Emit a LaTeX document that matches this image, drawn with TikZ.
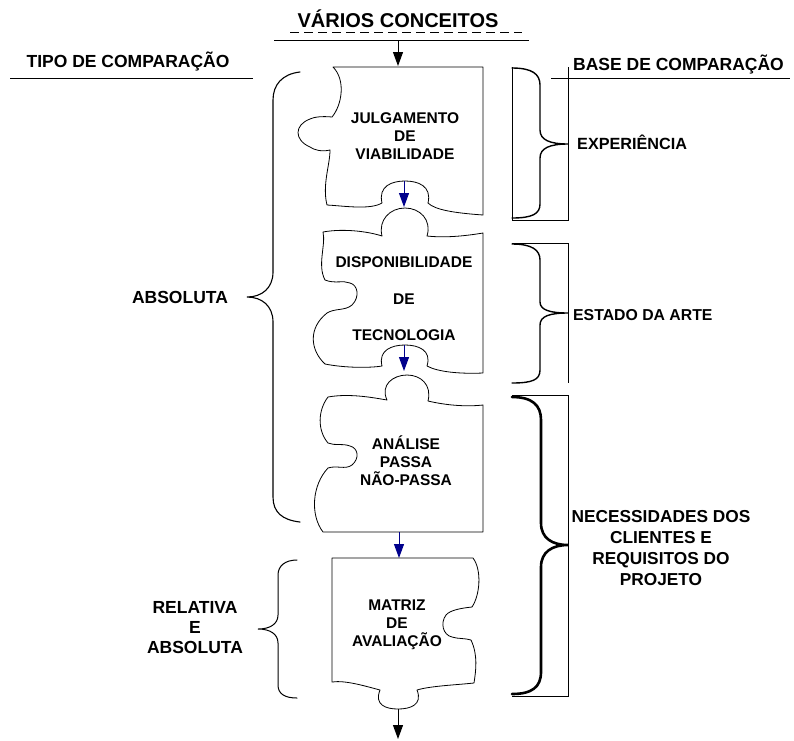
\documentclass[tikz,border=0pt]{standalone}
\usepackage{fontspec}
\setmainfont{Liberation Sans}
\usetikzlibrary{arrows.meta}
\definecolor{flowblue}{RGB}{0,0,140}
\begin{document}
\begin{tikzpicture}[x=1pt,y=-1pt,
  piece/.style={draw=black,line width=0.8pt,line join=round},
  brace/.style={draw=black,line width=1.4pt,line cap=round},
  thinline/.style={draw=black,line width=0.8pt},
  flow/.style={line width=1pt,-{Triangle[length=14pt,width=10pt]}},
  txt/.style={font=\bfseries\fontsize{15.5}{18}\selectfont,align=center,inner sep=0pt},
  side/.style={font=\bfseries\fontsize{17.5}{20}\selectfont,align=center,inner sep=0pt},
]
\useasboundingbox (0,0) rectangle (794,740);

% ---- title and column headers
\node[font=\bfseries\fontsize{20}{24}\selectfont,inner sep=0pt,anchor=base] (title) at (398,27) {VÁRIOS CONCEITOS};
\draw[thinline,dash pattern=on 9pt off 5pt] (290,32) -- (522,32);
\draw[thinline] (274,40) -- (529,40);
\coordinate (start) at (398,40);

\node[side,anchor=base] (tipo) at (128,67) {TIPO DE COMPARAÇÃO};
\draw[thinline] (10,78) -- (253,78);
\node[side,anchor=base west] (base) at (573,70) {BASE DE COMPARAÇÃO};
\draw[thinline] (551,78) -- (790,78);

% ---- puzzle piece 1
\draw[piece] (333,67) -- (483,67) -- (483,215)
  .. controls (455,213) and (435,210) .. (428,203)
  .. controls (432,186) and (418,181) .. (405,181)
  .. controls (392,181) and (378,186) .. (382,203)
  .. controls (370,210) and (345,206) .. (327,205)
  .. controls (322,185) and (330,165) .. (330,150)
  .. controls (322,152) and (314,150) .. (310,147)
  .. controls (294,140) and (294,125) .. (310,119)
  .. controls (314,117) and (322,116) .. (332,117)
  .. controls (342,105) and (346,80) .. (333,67) -- cycle;
\node[txt] (p1) at (405,136) {JULGAMENTO\\DE\\VIABILIDADE};
\coordinate (p1out) at (404,181);
\coordinate (p2in) at (404,207);

% ---- puzzle piece 2
\draw[piece] (323,232)
  .. controls (345,228) and (370,232) .. (382,236)
  .. controls (378,220) and (390,208) .. (405,208)
  .. controls (420,208) and (432,220) .. (427,236)
  .. controls (445,238) and (465,236) .. (483,233) -- (483,373)
  .. controls (460,374) and (438,372) .. (427,366)
  .. controls (432,350) and (418,345) .. (405,345)
  .. controls (392,345) and (378,350) .. (382,366)
  .. controls (370,368) and (345,368) .. (325,364)
  .. controls (310,350) and (308,328) .. (327,313)
  .. controls (335,308) and (345,311) .. (352,305)
  .. controls (360,297) and (358,285) .. (350,283)
  .. controls (343,280) and (335,284) .. (325,280)
  .. controls (317,265) and (326,245) .. (323,232) -- cycle;
\node[txt,font=\bfseries\fontsize{15.5}{36.5}\selectfont] (p2) at (404,299) {DISPONIBILIDADE\\DE\\TECNOLOGIA};
\coordinate (p2out) at (404,345);
\coordinate (p3in) at (404,371);

% ---- puzzle piece 3
\draw[piece] (328,397)
  .. controls (350,393) and (375,398) .. (387,400)
  .. controls (380,385) and (393,375) .. (407,375)
  .. controls (421,375) and (432,385) .. (428,401)
  .. controls (445,405) and (465,407) .. (483,405) -- (483,532) -- (323,532)
  .. controls (310,515) and (312,485) .. (328,468)
  .. controls (337,465) and (345,470) .. (352,465)
  .. controls (360,458) and (358,448) .. (350,446)
  .. controls (342,443) and (335,446) .. (328,443)
  .. controls (317,430) and (318,410) .. (328,397) -- cycle;
\node[txt] (p3) at (406,461) {ANÁLISE\\PASSA\\NÃO-PASSA};
\coordinate (p3out) at (399,532);
\coordinate (p4in) at (399,558);

% ---- puzzle piece 4
\draw[piece] (332,558) -- (473,558)
  .. controls (482,570) and (480,595) .. (472,607)
  .. controls (462,608) and (450,610) .. (446,615)
  .. controls (440,623) and (443,635) .. (452,637)
  .. controls (458,639) and (465,638) .. (471,640)
  .. controls (478,655) and (476,670) .. (474,683)
  .. controls (455,685) and (430,686) .. (417,690)
  .. controls (423,705) and (410,709) .. (398,709)
  .. controls (386,709) and (374,705) .. (380,690)
  .. controls (365,686) and (345,680) .. (332,682) -- cycle;
\node[txt] (p4) at (397,625) {MATRIZ\\DE\\AVALIAÇÃO};
\coordinate (p4out) at (398,709);
\coordinate (finish) at (398,739);

% ---- flow arrows
\draw[flow] (start) -- (398,66);
\draw[flow,flowblue] (p1out) -- (p2in);
\draw[flow,flowblue] (p2out) -- (p3in);
\draw[flow,flowblue] (p3out) -- (p4in);
\draw[flow] (p4out) -- (finish);

% ---- left braces: type of comparison
\draw[brace,line width=1.1pt] (300,72) .. controls (282,74) and (273,85) .. (273,100) -- (273,272)
  .. controls (273,288) and (262,297) .. (247,297)
  .. controls (262,297) and (273,306) .. (273,322) -- (273,497)
  .. controls (273,512) and (282,520) .. (300,522);
\node[side,anchor=base] (abs) at (180,303) {ABSOLUTA};

\draw[brace,line width=1pt] (297,560) .. controls (285,560) and (278,566) .. (278,575) -- (278,615)
  .. controls (278,624) and (270,629) .. (258,629)
  .. controls (270,629) and (278,634) .. (278,643) -- (278,685)
  .. controls (278,694) and (285,698) .. (297,698);
\node[side] (rel) at (195,628) {RELATIVA\\E\\ABSOLUTA};

% ---- right braces: basis of comparison
\draw[thinline] (512,67) -- (512,220) -- (568,220) -- (568,67);
\draw[brace] (512,68) .. controls (532,68) and (540,74) .. (540,85) -- (540,130)
  .. controls (540,140) and (550,144) .. (568,144)
  .. controls (550,144) and (540,148) .. (540,158) -- (540,204)
  .. controls (540,214) and (532,218) .. (512,218);
\node[font=\bfseries\fontsize{16.2}{20}\selectfont,inner sep=0pt,anchor=base west] (exp) at (577,149) {EXPERIÊNCIA};

\draw[thinline] (512,243) -- (568,243) -- (568,383);
\draw[brace] (512,244) .. controls (532,244) and (540,250) .. (540,260) -- (540,302)
  .. controls (540,310) and (550,313) .. (568,313)
  .. controls (550,313) and (540,316) .. (540,325) -- (540,370)
  .. controls (540,380) and (532,383) .. (512,383);
\node[font=\bfseries\fontsize{15.8}{20}\selectfont,inner sep=0pt,anchor=base west] (arte) at (573,320) {ESTADO DA ARTE};

\draw[thinline] (512,395) -- (568,395) -- (568,696) -- (512,696);
\draw[brace,line width=2.6pt] (512,397) .. controls (532,397) and (541,405) .. (541,420) -- (541,523)
  .. controls (541,538) and (552,545) .. (568,545)
  .. controls (552,545) and (541,552) .. (541,567) -- (541,672)
  .. controls (541,687) and (532,694) .. (512,694);
\node[side,font=\bfseries\fontsize{17.3}{20.7}\selectfont] (nec) at (661,548) {NECESSIDADES DOS\\CLIENTES E\\REQUISITOS DO\\PROJETO};
\end{tikzpicture}
\end{document}
